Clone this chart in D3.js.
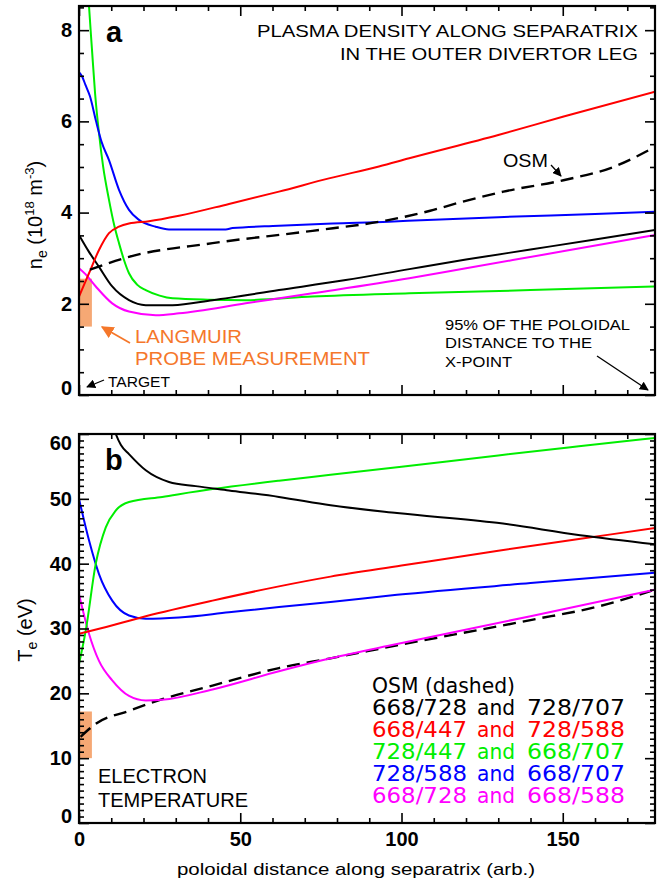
<!DOCTYPE html>
<html><head><meta charset="utf-8">
<script src="https://cdn.jsdelivr.net/npm/d3@7"></script>
<style>
html,body{margin:0;padding:0;background:#fff;}
svg{display:block;font-family:"Liberation Sans",Arial,sans-serif;}
</style></head>
<body><svg id="c" width="663" height="882"></svg>
<script>
// ---------- data ----------
const xTickLabels = [0, 50, 100, 150];
const neTickLabels = [0, 2, 4, 6, 8];
const teTickLabels = [0, 10, 20, 30, 40, 50, 60];

// panel a : n_e (10^18 m^-3) vs poloidal distance
const neBlack   = [[0,3.51],[3,3.15],[6.2,2.81],[10.3,2.38],[15.5,2.08],[20.7,1.97],[29,1.97],[41.4,2.08],[62,2.30],[82.7,2.52],[102.4,2.76],[120,2.97],[140,3.19],[160,3.41],[178.6,3.62]];
const neRed     = [[0,2.16],[3.1,2.67],[6.2,3.18],[9.3,3.55],[12.4,3.69],[15.5,3.76],[21.7,3.81],[31,3.93],[46.5,4.19],[62,4.46],[77.5,4.75],[93,5.01],[102.4,5.19],[130,5.7],[150,6.1],[178.6,6.65]];
const neGreen   = [[2,10],[3.1,8.53],[4,7.6],[5,6.6],[6.2,5.74],[7.5,5.0],[9.3,4.28],[11,3.7],[12.4,3.33],[14,2.95],[15.5,2.67],[18,2.42],[20.7,2.30],[25,2.18],[29,2.12],[40,2.09],[51.7,2.08],[72.4,2.16],[102.4,2.23],[140,2.3],[178.6,2.38]];
const neBlue    = [[0,7.08],[1,6.98],[2,6.8],[3.4,6.55],[5.3,6.0],[7,5.55],[9.3,5.15],[12.4,4.5],[15.5,4.06],[18.6,3.84],[23.8,3.69],[27.9,3.63],[45.5,3.63],[47.6,3.66],[62,3.71],[78.6,3.76],[96,3.80],[102,3.82],[130,3.9],[160,3.97],[178.6,4.02]];
const neMagenta = [[0,2.78],[2,2.65],[5.2,2.38],[10.3,2.01],[15.5,1.83],[23.8,1.75],[31,1.79],[51.7,2.01],[72.4,2.23],[102.4,2.56],[120,2.78],[150,3.15],[178.6,3.51]];
const neOSM     = [[3.4,2.75],[15.5,3.03],[41.4,3.33],[72.4,3.6],[95.5,3.83],[108.9,4.04],[119,4.24],[131.6,4.46],[150.2,4.71],[165.7,5.0],[178.6,5.44]];
const neProbe   = [1.5, 2.55];   // Langmuir probe range (x 0..4)

// panel b : T_e (eV)
const teBlack   = [[9.5,63],[11.4,60],[13,58.3],[15.5,56.9],[20.7,54.4],[27.9,52.6],[36.2,51.96],[46.5,51.3],[62,50.3],[78,49],[98.6,47.8],[129.6,46.3],[155.4,44.4],[178.6,43]];
const teRed     = [[0,29.2],[5,29.8],[20.7,31.9],[41.4,34.3],[62,36.5],[78,38],[100,39.7],[130,42],[155,43.8],[178.6,45.5]];
const teGreen   = [[0,24.5],[2.1,29.7],[5.2,40],[8.3,45.6],[11.4,48.2],[15.5,49.5],[25.8,50.3],[41.4,51.5],[62,52.8],[78,53.7],[100,54.95],[130,56.7],[155,58.1],[178.6,59.4]];
const teBlue    = [[0,50],[3.1,43.6],[6.2,38.4],[10.3,34.3],[15.5,32],[20.7,31.5],[31,31.7],[46.5,32.5],[62,33.3],[78,34.1],[98.6,35.2],[140,37],[178.6,38.6]];
const teMagenta = [[0,35.3],[3.1,29.2],[6.2,25],[10.3,22],[15.5,19.6],[20.7,18.9],[25.8,19],[41.4,20.6],[62,23.4],[78,25.4],[98.6,27.6],[140,31.9],[178.6,36]];
const teOSM     = [[0.5,13.3],[5.2,15.3],[15.5,17.3],[25.8,19.1],[41.4,21.2],[62,23.9],[78,25.4],[98.6,27.4],[140,31.3],[161,33.4],[178.6,36]];
const teProbe   = [10, 17.2];

const legendRows = [
  ["OSM (dashed)", "", ""],
  ["668/728", "and", "728/707"],
  ["668/447", "and", "728/588"],
  ["728/447", "and", "668/707"],
  ["728/588", "and", "668/707"],
  ["668/728", "and", "668/588"]
];
const legendColors = ["#000", "#000", "#ff0000", "#00ee00", "#0000ff", "#ff00ff"];

// ---------- layout ----------
const svg = d3.select("#c");
const L = 79, R = 655;
const A = {top: 6, bottom: 395};
const B = {top: 434, bottom: 823};
const x = d3.scaleLinear().domain([0, 178.6]).range([L, R]);
const yA = d3.scaleLinear().domain([0, 8.53]).range([A.bottom, A.top]);
const yB = d3.scaleLinear().domain([0, 60]).range([B.bottom, B.top]);
const xMinor = d3.range(0, 171, 10).filter(v => v % 50 !== 0);

const defs = svg.append("defs");
defs.append("clipPath").attr("id","clipA").append("rect").attr("x",L).attr("y",A.top).attr("width",R-L).attr("height",A.bottom-A.top);
defs.append("clipPath").attr("id","clipB").append("rect").attr("x",L).attr("y",B.top).attr("width",R-L).attr("height",B.bottom-B.top);

const ORANGE_FILL = "#f6a874";
const ORANGE_TEXT = "#f5772a";

function panel(box, y, majors, minors, clipId, showX, series, probe) {
  const g = svg.append("g");
  g.append("rect")
    .attr("x", x(0)).attr("width", x(4) - x(0))
    .attr("y", y(probe[1])).attr("height", y(probe[0]) - y(probe[1]))
    .attr("fill", ORANGE_FILL);
  const line = d3.line().x(d => x(d[0])).y(d => y(d[1])).curve(d3.curveMonotoneX);
  const cg = g.append("g").attr("clip-path", `url(#${clipId})`);
  series.forEach(s => {
    cg.append("path").datum(s.data).attr("d", line)
      .attr("fill","none").attr("stroke", s.color)
      .attr("stroke-width", s.dash ? 2.4 : 2)
      .attr("stroke-dasharray", s.dash ? "13,7" : null);
  });
  const ax = (gen, tx, ty) => {
    const a = g.append("g").attr("transform", `translate(${tx},${ty})`).call(gen);
    a.select(".domain").remove();
    a.selectAll("line").attr("stroke","#000").attr("stroke-width",1.6);
    return a;
  };
  ax(d3.axisLeft(y).tickValues(minors).tickSize(-5).tickFormat(""), L, 0);
  ax(d3.axisRight(y).tickValues(minors).tickSize(-5).tickFormat(""), R, 0);
  ax(d3.axisRight(y).tickValues(majors).tickSize(-10).tickFormat(""), R, 0);
  const yl = ax(d3.axisLeft(y).tickValues(majors).tickSize(-10).tickPadding(7), L, 0);
  yl.selectAll("text").attr("font-size", 20).attr("font-weight","bold")
    .attr("font-family","Liberation Sans, Arial, sans-serif").attr("fill","#000")
    .attr("dy", d => d === y.domain()[0] ? "-0.05em" : (d === majors[majors.length-1] && y(d) - box.top < 4 ? "0.75em" : "0.32em"));
  ax(d3.axisTop(x).tickValues(xMinor).tickSize(-5).tickFormat(""), 0, box.top);
  ax(d3.axisTop(x).tickValues(xTickLabels).tickSize(-10).tickFormat(""), 0, box.top);
  ax(d3.axisBottom(x).tickValues(xMinor).tickSize(-5).tickFormat(""), 0, box.bottom);
  const xb = ax(d3.axisBottom(x).tickValues(xTickLabels).tickSize(-10).tickPadding(9)
      .tickFormat(showX ? d3.format("d") : ""), 0, box.bottom);
  xb.selectAll("text").attr("font-size", 20).attr("font-weight","bold")
    .attr("font-family","Liberation Sans, Arial, sans-serif").attr("fill","#000");
  g.append("rect").attr("x", L).attr("y", box.top).attr("width", R - L).attr("height", box.bottom - box.top)
    .attr("fill","none").attr("stroke","#000").attr("stroke-width",2.2);
  return g;
}

panel(A, yA, neTickLabels, d3.range(0, 8.51, 0.5).filter(v => v % 2 !== 0), "clipA", false, [
  {data: neGreen, color: "#00ee00"},
  {data: neBlue, color: "#0000ff"},
  {data: neMagenta, color: "#ff00ff"},
  {data: neBlack, color: "#000"},
  {data: neRed, color: "#ff0000"},
  {data: neOSM, color: "#000", dash: true}
], neProbe);

panel(B, yB, teTickLabels, d3.range(0, 61, 1).filter(v => v % 10 !== 0), "clipB", true, [
  {data: teOSM, color: "#000", dash: true},
  {data: teMagenta, color: "#ff00ff"},
  {data: teBlue, color: "#0000ff"},
  {data: teGreen, color: "#00ee00"},
  {data: teRed, color: "#ff0000"},
  {data: teBlack, color: "#000"}
], teProbe);

// ---------- text ----------
function txt(s, px, py, opt = {}) {
  const t = svg.append("text").attr("x", px).attr("y", py).text(s)
    .attr("font-size", opt.size || 16).attr("fill", opt.color || "#000")
    .attr("text-anchor", opt.anchor || "start");
  if (opt.weight) t.attr("font-weight", opt.weight);
  if (opt.len) t.attr("textLength", opt.len).attr("lengthAdjust", "spacingAndGlyphs");
  if (opt.family) t.attr("font-family", opt.family);
  return t;
}
const arrowHead = (id, color) => {
  defs.append("marker").attr("id", id).attr("viewBox","0 0 10 10").attr("refX",9).attr("refY",5)
    .attr("markerWidth",7).attr("markerHeight",7).attr("orient","auto")
    .append("path").attr("d","M0,0 L10,5 L0,10 z").attr("fill",color);
};
arrowHead("ahK", "#000");
arrowHead("ahO", ORANGE_TEXT);
function arrow(x1,y1,x2,y2,id,color,w){
  svg.append("line").attr("x1",x1).attr("y1",y1).attr("x2",x2).attr("y2",y2)
    .attr("stroke",color).attr("stroke-width",w||1.3).attr("marker-end",`url(#${id})`);
}

txt("a", 106, 42, {size: 29, weight: "bold"});
txt("b", 105, 470, {size: 29, weight: "bold"});

txt("PLASMA DENSITY ALONG SEPARATRIX", 638, 37, {size: 17, anchor: "end", len: 381});
txt("IN THE OUTER DIVERTOR LEG", 638, 60, {size: 17, anchor: "end", len: 298});
txt("OSM", 503, 167, {size: 19, len: 45});
arrow(551, 165, 561, 176, "ahK", "#000", 1.3);

txt("LANGMUIR", 135, 343, {size: 19, color: ORANGE_TEXT, len: 107});
txt("PROBE MEASUREMENT", 135, 365, {size: 19, color: ORANGE_TEXT, len: 235});
arrow(130, 343, 102, 327, "ahO", ORANGE_TEXT, 1.8);

txt("TARGET", 108, 387, {size: 15, len: 62});
arrow(104, 380, 87, 387, "ahK", "#000", 1.3);

txt("95% OF THE POLOIDAL", 445, 330, {size: 15.5, len: 185});
txt("DISTANCE TO THE", 445, 348, {size: 15.5, len: 147});
txt("X-POINT", 445, 367, {size: 15.5, len: 67});
arrow(597, 356, 648, 390, "ahK", "#000", 1.3);

txt("ELECTRON", 98, 783, {size: 20, len: 109});
txt("TEMPERATURE", 98, 807, {size: 20, len: 150});

const legX = [372, 477, 527];
const legW = [95, 38, 98];
legendRows.forEach((row, i) => {
  const yy = 693 + i * 22;
  if (i === 0) {
    txt(row[0], legX[0], yy, {size: 21, color: legendColors[i], len: 143, family: "DejaVu Sans"});
  } else {
    row.forEach((s, j) => txt(s, legX[j], yy, {size: 21, color: legendColors[i], len: legW[j], family: "DejaVu Sans"}));
  }
});

txt("poloidal distance along separatrix (arb.)", 356, 875, {size: 17, anchor: "middle", len: 358});

const yt1 = svg.append("text").attr("transform","translate(42,215) rotate(-90)")
  .attr("text-anchor","middle").attr("font-size",20);
yt1.append("tspan").text("n");
yt1.append("tspan").attr("dy",5).attr("font-size",14).text("e");
yt1.append("tspan").attr("dy",-5).text(" (10");
yt1.append("tspan").attr("dy",-8).attr("font-size",13).text("18");
yt1.append("tspan").attr("dy",8).text(" m");
yt1.append("tspan").attr("dy",-8).attr("font-size",13).text("-3");
yt1.append("tspan").attr("dy",8).text(")");

const yt2 = svg.append("text").attr("transform","translate(32,630) rotate(-90)")
  .attr("text-anchor","middle").attr("font-size",20);
yt2.append("tspan").text("T");
yt2.append("tspan").attr("dy",5).attr("font-size",14).text("e");
yt2.append("tspan").attr("dy",-5).text(" (eV)");
</script></body></html>
